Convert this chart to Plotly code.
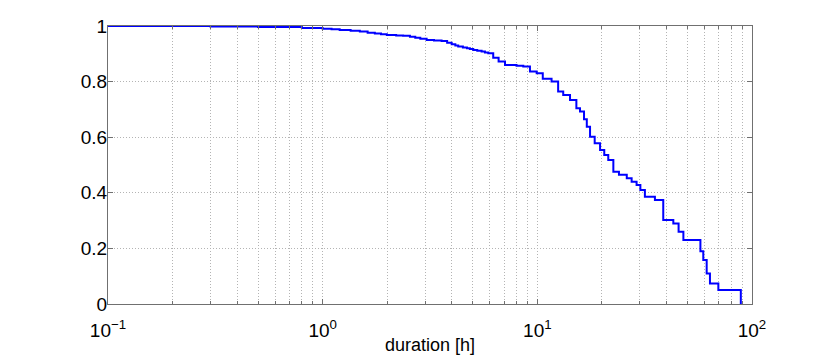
import plotly.graph_objects as go

# survival curve (duration in hours, fraction remaining)
duration_h = [
    0.1, 0.3, 0.5, 0.8, 1.0, 1.1, 1.2, 1.35, 1.49, 1.62, 1.75, 1.87, 1.99, 2.2,
    2.37, 2.55, 2.7, 2.85, 3.05, 3.3, 3.58, 3.8, 3.99, 4.15, 4.28, 4.5, 4.7,
    4.85, 5.03, 5.25, 5.5, 5.7, 5.91, 6.23, 6.6, 7.07, 8.0, 8.6, 9.24, 9.93,
    10.6, 11.65, 12.5, 13.2, 14.2, 15.2, 15.8, 16.5, 17.0, 17.6, 18.5, 19.6,
    20.5, 21.4, 22.6, 24.0, 26.1, 27.5, 29.0, 30.2, 31.7, 35.3, 38.6, 43.0,
    45.5, 47.9, 56.2, 57.5, 59.3, 61.5, 63.7, 69.7, 87.4, 88.7,
]
survival = [
    1.0, 0.998, 0.996, 0.993, 0.99, 0.988, 0.986, 0.983, 0.98, 0.976, 0.973,
    0.97, 0.968, 0.966, 0.965, 0.961, 0.958, 0.954, 0.95, 0.948, 0.946, 0.94,
    0.934, 0.93, 0.926, 0.923, 0.92, 0.917, 0.914, 0.911, 0.908, 0.905, 0.902,
    0.886, 0.872, 0.86, 0.857, 0.854, 0.836, 0.83, 0.81, 0.80, 0.764, 0.752,
    0.734, 0.704, 0.692, 0.665, 0.638, 0.602, 0.578, 0.554, 0.536, 0.518,
    0.476, 0.465, 0.452, 0.44, 0.428, 0.41, 0.386, 0.374, 0.302, 0.29, 0.26,
    0.23, 0.23, 0.19, 0.158, 0.11, 0.074, 0.05, 0.05, 0.0,
]

decades = [0.1, 1, 10, 100]
decade_labels = ["10<sup>−1</sup>", "10<sup>0</sup>", "10<sup>1</sup>", "10<sup>2</sup>"]
y_ticks = [0, 0.2, 0.4, 0.6, 0.8, 1]
y_labels = ["0", "0.2", "0.4", "0.6", "0.8", "1"]
x_title = "duration [h]"

minor_vals = [d * m for d in decades[:-1] for m in range(2, 10)]

fig = go.Figure()
fig.add_trace(go.Scatter(
    x=duration_h,
    y=survival,
    mode="lines",
    line={"color": "#0000ff", "width": 2, "shape": "hv"},
    showlegend=False,
))

axis_color = "#707070"
grid_color = "#b4b4b4"
grid_dash = "1px,2px"

fig.update_xaxes(
    type="log",
    range=[-1, 2],
    tickmode="array",
    tickvals=decades,
    ticktext=decade_labels,
    ticks="inside",
    ticklen=5,
    tickcolor=axis_color,
    showline=True,
    linecolor=axis_color,
    linewidth=1,
    mirror="ticks",
    showgrid=True,
    gridcolor=grid_color,
    griddash=grid_dash,
    gridwidth=1,
    zeroline=False,
    automargin=False,
    ticklabelstandoff=9,
    tickfont={"size": 19, "color": "#000000"},
    minor={
        "tickmode": "array",
        "tickvals": minor_vals,
        "ticks": "inside",
        "ticklen": 3,
        "tickcolor": axis_color,
        "showgrid": True,
        "gridcolor": grid_color,
        "griddash": grid_dash,
        "gridwidth": 1,
    },
)
fig.update_yaxes(
    range=[0, 1],
    tickmode="array",
    tickvals=y_ticks,
    ticktext=y_labels,
    ticks="inside",
    ticklen=5,
    tickcolor=axis_color,
    showline=True,
    linecolor=axis_color,
    linewidth=1,
    mirror="ticks",
    showgrid=True,
    gridcolor=grid_color,
    griddash=grid_dash,
    gridwidth=1,
    zeroline=False,
    automargin=False,
    ticklabelstandoff=-4,
    tickfont={"size": 19, "color": "#000000"},
)

# x-axis title as an annotation so it can sit close under the tick labels
fig.add_annotation(
    text=x_title,
    xref="paper",
    yref="paper",
    x=0.5,
    y=0,
    xanchor="center",
    yanchor="top",
    yshift=-29,
    showarrow=False,
    font={"size": 18, "color": "#000000"},
)

# the page body adds an 8px offset, so margins are shifted to compensate
fig.update_layout(
    width=830,
    height=355,
    paper_bgcolor="#ffffff",
    plot_bgcolor="#ffffff",
    font={"family": "Liberation Sans, Arial, sans-serif", "color": "#000000"},
    margin={"l": 100, "r": 86, "t": 18, "b": 59, "autoexpand": False},
)

fig.write_html("out.html")
